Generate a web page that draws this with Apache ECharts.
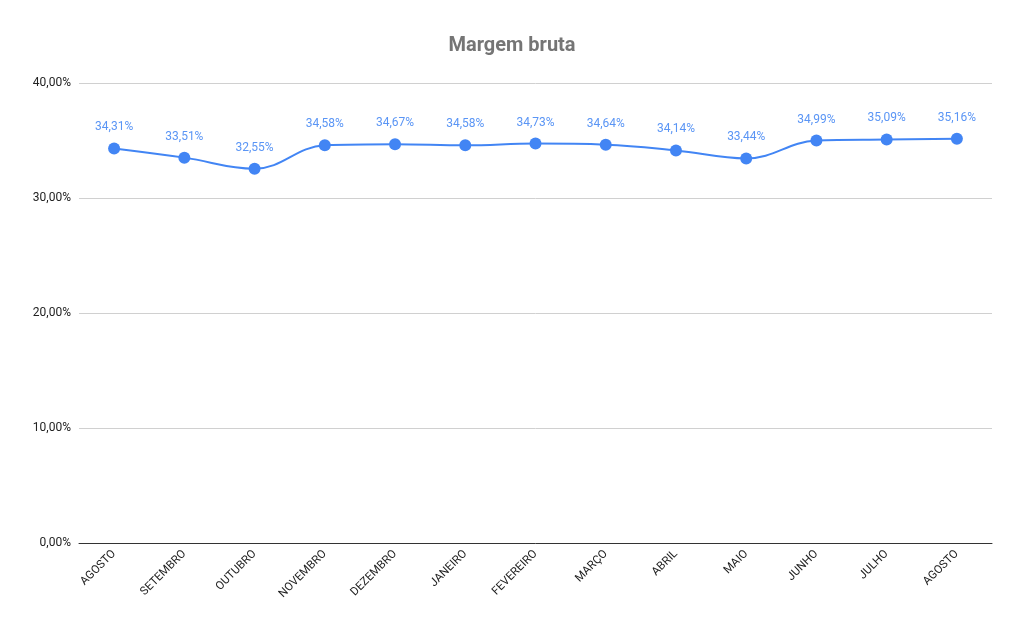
<!DOCTYPE html>
<html>
<head>
<meta charset="utf-8">
<script src="https://cdn.jsdelivr.net/npm/echarts@6/dist/echarts.min.js"></script>
<style>html,body{margin:0;padding:0;background:#fff}#c{width:1024px;height:633px}</style>
</head>
<body>
<div id="c"></div>
<script>
var categories = ['AGOSTO','SETEMBRO','OUTUBRO','NOVEMBRO','DEZEMBRO','JANEIRO','FEVEREIRO','MARÇO','ABRIL','MAIO','JUNHO','JULHO','AGOSTO'];
var values = [34.31,33.51,32.55,34.58,34.67,34.58,34.73,34.64,34.14,33.44,34.99,35.09,35.16];
var yTicks = [0,10,20,30,40];

function fmt(v){ return v.toFixed(2).replace('.', ',') + '%'; }

var chart = echarts.init(document.getElementById('c'));
chart.setOption({
  backgroundColor: '#fff',
  animation: false,
  title: {
    text: 'Margem bruta',
    left: 'center',
    top: 31,
    textStyle: {fontFamily: 'Roboto', fontSize: 20, fontWeight: 'bold', color: '#757575'}
  },
  grid: {left: 79, right: 32, top: 83, bottom: 90},
  xAxis: {
    type: 'category',
    data: categories,
    boundaryGap: true,
    axisLine: {lineStyle: {color: '#333', width: 1}},
    axisTick: {show: false},
    axisLabel: {rotate: 45, interval: 0, fontFamily: 'Roboto', fontSize: 11.5, color: '#222', margin: 9}
  },
  yAxis: {
    type: 'value',
    min: yTicks[0], max: yTicks[yTicks.length-1], interval: 10,
    axisLine: {show: false},
    axisTick: {show: false},
    splitLine: {lineStyle: {color: '#d0d0d0'}},
    axisLabel: {formatter: function(v){return fmt(v);}, fontFamily: 'Roboto', fontSize: 12, color: '#222', margin: 8}
  },
  series: [{
    type: 'line',
    data: values,
    smooth: 0.4,
    symbol: 'circle',
    symbolSize: 12,
    lineStyle: {color: '#4285f4', width: 2},
    itemStyle: {color: '#4285f4'},
    label: {
      show: true, position: 'top', distance: 9,
      formatter: function(p){return fmt(p.value);},
      fontFamily: 'Roboto', fontSize: 12, color: '#5a95f5'
    }
  }]
});
</script>
</body>
</html>
